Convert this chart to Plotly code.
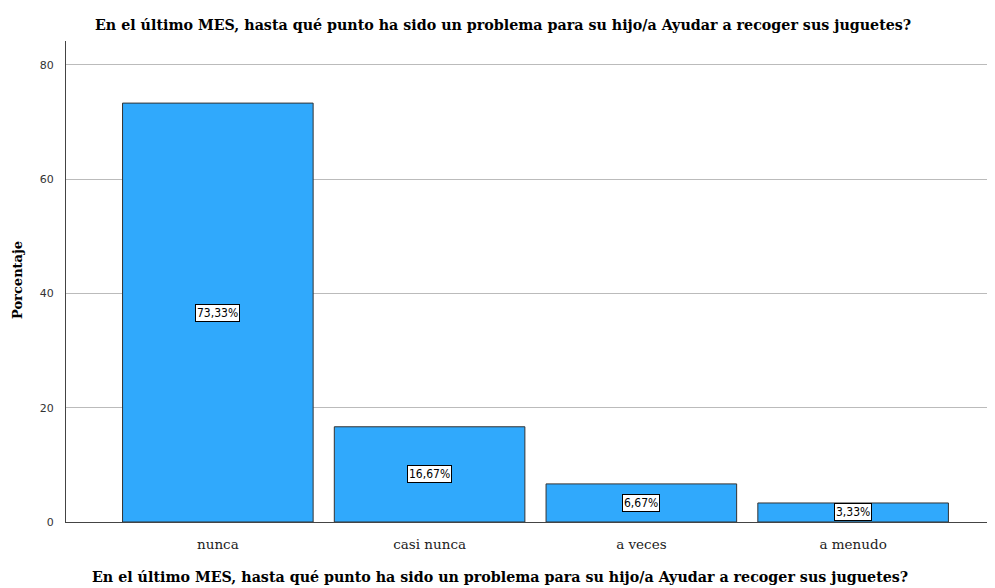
import plotly.graph_objects as go

categories = ["nunca", "casi nunca", "a veces", "a menudo"]
values = [73.33, 16.67, 6.67, 3.33]
labels = ["73,33%", "16,67%", "6,67%", "3,33%"]
y_ticks = [0, 20, 40, 60, 80]

title = "En el último MES, hasta qué punto ha sido un problema para su hijo/a Ayudar a recoger sus juguetes?"

# page body has an 8px margin; figure is sized so the plot lands where the reference has it
OFF = 8
W, H = 995 - OFF, 588 - OFF
L, T, B, R = 66 - OFF, 41 - OFF, 66, 0
PW, PH = W - L - R, H - T - B

fig = go.Figure()
fig.add_trace(go.Bar(
    x=categories, y=values, width=0.9,
    marker=dict(color="#30A9FC", line=dict(color="#333333", width=1)),
    hoverinfo="skip",
))

for c, v, t in zip(categories, values, labels):
    fig.add_annotation(
        x=c, y=v / 2, text=t, showarrow=False,
        font=dict(family="DejaVu Sans Condensed", size=12, color="black"),
        bgcolor="white", bordercolor="black", borderwidth=1, borderpad=1,
    )

serif = "DejaVu Serif"


def px(xp):
    return (xp - 66) / PW


def py(yp):
    return (522 - yp) / PH


fig.add_annotation(xref="paper", yref="paper", x=px(503), y=py(25),
                   text="<b>" + title + "</b>", showarrow=False, xanchor="center", yanchor="middle",
                   font=dict(family=serif, size=14.25, color="black"))
fig.add_annotation(xref="paper", yref="paper", x=px(500), y=py(577),
                   text="<b>" + title + "</b>", showarrow=False, xanchor="center", yanchor="middle",
                   font=dict(family=serif, size=14.25, color="black"))
fig.add_annotation(xref="paper", yref="paper", x=px(17), y=py(280),
                   text="<b>Porcentaje</b>", showarrow=False, xanchor="center", yanchor="middle",
                   textangle=-90, font=dict(family=serif, size=13, color="black"))

fig.update_layout(
    width=W, height=H,
    margin=dict(l=L, r=R, t=T, b=B, autoexpand=False),
    plot_bgcolor="white", paper_bgcolor="white",
    showlegend=False,
    xaxis=dict(
        range=[-0.717, 3.67], showgrid=False, showline=True, linecolor="#444444", linewidth=1,
        ticks="", ticklabelstandoff=10,
        tickfont=dict(family=serif, size=13.5, color="#222222"), automargin=False,
    ),
    yaxis=dict(
        range=[0, 84.2], tickvals=y_ticks, showgrid=True, gridcolor="#BBBBBB", gridwidth=1,
        showline=True, linecolor="#444444", linewidth=1, zeroline=False,
        ticks="", ticklabelstandoff=9, automargin=False,
        tickfont=dict(family="DejaVu Sans", size=11, color="#333333"),
    ),
)

fig.write_html("out.html")
